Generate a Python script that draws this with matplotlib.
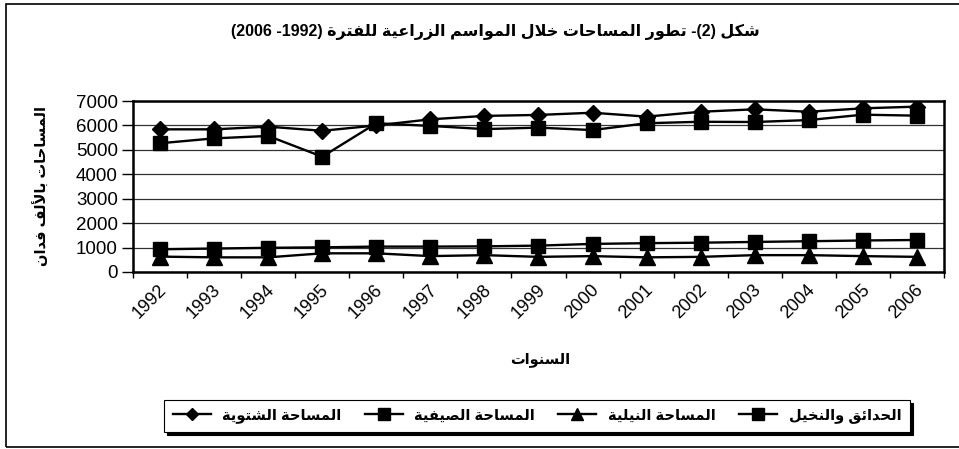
#!/usr/bin/env python3
"""Line chart: cultivated areas by agricultural season, 1992-2006."""

import re

import matplotlib
matplotlib.use("Agg")
import matplotlib.pyplot as plt
import matplotlib.transforms as mtransforms
import numpy as np

plt.rcParams['font.family'] = ['Liberation Sans', 'DejaVu Sans']

# ---- data ----
years = [str(y) for y in range(1992, 2007)]
winter = [5840, 5840, 5950, 5780, 6000, 6250, 6390, 6430, 6520, 6360, 6560, 6660, 6560, 6700, 6770]
summer = [5270, 5470, 5570, 4720, 6090, 5980, 5850, 5910, 5810, 6090, 6150, 6140, 6220, 6440, 6400]
nile = [630, 600, 600, 765, 765, 650, 690, 620, 650, 600, 620, 690, 690, 650, 620]
orchards = [930, 960, 990, 1010, 1040, 1040, 1050, 1080, 1150, 1180, 1200, 1230, 1260, 1290, 1310]

series_names = ["المساحة الشتوية", "المساحة الصيفية", "المساحة النيلية", "الحدائق والنخيل"]
title_text = "شكل (2)- تطور المساحات خلال المواسم الزراعية للفترة (1992- 2006)"
ylabel_text = "المساحات بالألف فدان"
xlabel_text = "السنوات"
yticks = [0, 1000, 2000, 3000, 4000, 5000, 6000, 7000]

# ---- minimal Arabic shaping + RTL ordering (matplotlib does neither) ----
DUAL = {'ب': 0xFE8F, 'ت': 0xFE95, 'ح': 0xFEA1, 'خ': 0xFEA5, 'س': 0xFEB1, 'ش': 0xFEB5,
        'ص': 0xFEB9, 'ط': 0xFEC1, 'ع': 0xFEC9, 'ف': 0xFED1, 'ق': 0xFED5, 'ك': 0xFED9,
        'ل': 0xFEDD, 'م': 0xFEE1, 'ن': 0xFEE5, 'ه': 0xFEE9, 'ي': 0xFEF1, 'ئ': 0xFE89}
RIGHT = {'ا': 0xFE8D, 'أ': 0xFE83, 'ة': 0xFE93, 'د': 0xFEA9, 'ر': 0xFEAD, 'ز': 0xFEAF,
         'و': 0xFEED, 'لا': 0xFEFB, 'لأ': 0xFEF7}
MIRROR = {'(': ')', ')': '('}


def is_arabic(word):
    return any('\u0600' <= c <= '\u06FF' for c in word)


def shape_word(word):
    letters = []
    i = 0
    while i < len(word):
        if word[i] == 'ل' and i + 1 < len(word) and word[i + 1] in 'اأ':
            letters.append(word[i:i + 2])
            i += 2
        else:
            letters.append(word[i])
            i += 1
    out = []
    for k, ch in enumerate(letters):
        base = DUAL.get(ch, RIGHT.get(ch))
        if base is None:
            out.append(ch)
            continue
        prev = k > 0 and letters[k - 1] in DUAL
        nxt = ch in DUAL and k + 1 < len(letters) and (letters[k + 1] in DUAL or letters[k + 1] in RIGHT)
        off = 3 if (prev and nxt) else 2 if nxt else 1 if prev else 0
        out.append(chr(base + off))
    return ''.join(reversed(out))


def flip_token(tok):
    # keep digit runs left-to-right, reverse and mirror everything else
    parts = re.findall(r'\d+|.', tok)
    return ''.join(MIRROR.get(p, p) for p in reversed(parts))


def rtl(text):
    toks = reversed(text.split())
    return ' '.join(shape_word(t) if is_arabic(t) else flip_token(t) for t in toks)


# ---- figure ----
W, H = 959, 449
fig = plt.figure(figsize=(W / 100, H / 100), dpi=100)
ax = fig.add_axes([133 / W, (H - 272) / H, (944 - 133) / W, (272 - 101) / H])

x = np.arange(len(years))
style = dict(color='black', lw=1.7, markeredgecolor='black', markerfacecolor='black')
ax.plot(x, winter, marker='D', markersize=8, label=rtl(series_names[0]), **style)
ax.plot(x, summer, marker='s', markersize=10.5, label=rtl(series_names[1]), **style)
ax.plot(x, nile, marker='^', markersize=11, label=rtl(series_names[2]), **style)
ax.plot(x, orchards, marker='s', markersize=10.5, label=rtl(series_names[3]), **style)

ax.set_xlim(-0.5, len(years) - 0.5)
ax.set_ylim(0, 7000)
ax.set_yticks(yticks)
ax.set_yticklabels([str(v) for v in yticks], fontsize=13.5)
ax.yaxis.grid(True, color='#333333', lw=0.9)
ax.set_axisbelow(True)

ax.set_xticks(x)
ax.set_xticklabels(years, rotation=45, ha='right', va='top', rotation_mode='anchor', fontsize=13)
ax.set_xticks(np.arange(-0.5, len(years)), minor=True)
ax.tick_params(axis='x', which='major', length=0, pad=7)
ax.tick_params(axis='x', which='minor', length=4.5, width=1, direction='out')
ax.tick_params(axis='y', length=8, width=1, direction='out', pad=3)
shift = mtransforms.ScaledTranslation(-2 / 100, 0, fig.dpi_scale_trans)
for lbl in ax.get_xticklabels():
    lbl.set_transform(lbl.get_transform() + shift)

for side in ['left', 'bottom', 'right', 'top']:
    ax.spines[side].set_linewidth(1.8)
    ax.spines[side].set_color('black')

fig.text(495 / W, 1 - 32 / H, rtl(title_text), ha='center', va='center',
         fontsize=11.5, fontweight='bold')
fig.text(42 / W, 1 - 186 / H, rtl(ylabel_text), ha='center', va='center', rotation=90,
         fontsize=10.5, fontweight='bold')
fig.text(540 / W, 1 - 360 / H, rtl(xlabel_text), ha='center', va='center',
         fontsize=10.5, fontweight='bold')

leg = fig.legend(loc='center', bbox_to_anchor=(537 / W, 1 - 416 / H), ncol=4,
                 frameon=True, fancybox=False, shadow={'color': 'black', 'alpha': 1},
                 edgecolor='black', handlelength=2.6, columnspacing=1.6, markerscale=0.8,
                 borderpad=0.6, prop={'weight': 'bold', 'size': 10.5})
leg.get_frame().set_linewidth(0.8)

fig.add_artist(plt.Rectangle((6 / W, 2 / H), 1.0, 443 / H, transform=fig.transFigure,
                             fill=False, ec='black', lw=1.2))

fig.savefig("out.png", dpi=100)
